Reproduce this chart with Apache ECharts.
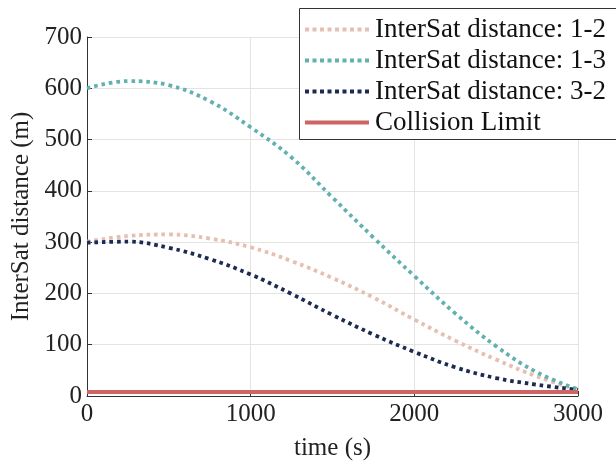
<!DOCTYPE html>
<html>
<head>
<meta charset="utf-8">
<script src="https://cdn.jsdelivr.net/npm/echarts@6/dist/echarts.min.js"></script>
<style>
  html, body { margin: 0; padding: 0; background: #fff; }
  #chart { width: 616px; height: 461px; }
</style>
</head>
<body>
<div id="chart"></div>
<script>
// time samples (s)
const timeS = [0, 250, 500, 750, 1000, 1250, 1500, 1750, 2000, 2250, 2500, 2750, 3000]
// inter-satellite distances (m)
const dist12 = [301, 312, 315, 307, 290, 263, 230, 192, 149, 108, 71, 38, 12]
const dist13 = [600, 614, 606, 575, 524, 465, 387, 309, 234, 161, 97, 46, 13]
const dist32 = [299, 301, 289, 267, 237, 199, 158, 120, 86, 56, 35, 22, 12]
const collisionLimit = 8
const yTicks = [0, 100, 200, 300, 400, 500, 600, 700]
const seriesNames = ['InterSat distance: 1-2', 'InterSat distance: 1-3', 'InterSat distance: 3-2', 'Collision Limit']

const font = 'Liberation Serif'
const pair = arr => timeS.map((t, i) => [t, arr[i]])

// legend icons: a row of square dots, and a solid bar
let dotPath = 'path://'
for (let i = 0; i < 9; i++) {
  dotPath += 'M' + (i * 7.5) + ',0h4v4h-4z'
}
const barPath = 'path://M0,0h64v4h-64z'

const chart = echarts.init(document.getElementById('chart'))

function dotted (name, color, arr) {
  return {
    name: name,
    type: 'line',
    data: pair(arr),
    smooth: 0.4,
    symbol: 'none',
    lineStyle: { color: color, width: 3.8, type: [3.6, 3.9] },
    itemStyle: { color: color }
  }
}

const option = {
  animation: false,
  grid: { left: 87, right: 38, top: 37, bottom: 65, outerBoundsMode: 'none', containLabel: false },
  // legend frame runs off the right edge, like the original figure
  graphic: [{
    type: 'rect',
    left: 299,
    top: 8,
    z: 10,
    shape: { width: 400, height: 131 },
    style: { fill: '#fff', stroke: '#333', lineWidth: 1 }
  }],
  legend: {
    orient: 'vertical',
    left: 299,
    top: 8,
    z: 20,
    padding: [8, 10, 5, 6],
    itemGap: 4,
    itemWidth: 64,
    itemHeight: 4,
    textStyle: { fontFamily: font, fontSize: 27, color: '#111', lineHeight: 26, padding: [0, 0, 0, 1] },
    data: [
      { name: seriesNames[0], icon: dotPath },
      { name: seriesNames[1], icon: dotPath },
      { name: seriesNames[2], icon: dotPath },
      { name: seriesNames[3], icon: barPath }
    ]
  },
  xAxis: {
    type: 'value',
    min: 0,
    max: 3000,
    interval: 1000,
    name: 'time (s)',
    nameLocation: 'middle',
    nameGap: 40,
    nameTextStyle: { fontFamily: font, fontSize: 25, color: '#222' },
    axisLine: { lineStyle: { color: '#333', width: 1 } },
    axisTick: { inside: true, length: 5, lineStyle: { color: '#333' } },
    axisLabel: { fontFamily: font, fontSize: 25, color: '#222', margin: 6, formatter: v => String(v) },
    splitLine: { show: true, lineStyle: { color: '#e3e3e3' } }
  },
  yAxis: {
    type: 'value',
    min: yTicks[0],
    max: yTicks[yTicks.length - 1],
    interval: 100,
    name: 'InterSat distance (m)',
    nameLocation: 'middle',
    nameGap: 40,
    nameTextStyle: { fontFamily: font, fontSize: 25, color: '#222' },
    axisLine: { show: true, lineStyle: { color: '#333', width: 1 } },
    axisTick: { show: true, inside: true, length: 5, lineStyle: { color: '#333' } },
    axisLabel: { fontFamily: font, fontSize: 25, color: '#222', margin: 5 },
    splitLine: { show: true, lineStyle: { color: '#e3e3e3' } }
  },
  series: [
    dotted(seriesNames[0], '#e6bfb0', dist12),
    dotted(seriesNames[1], '#62b1ae', dist13),
    dotted(seriesNames[2], '#1d2a52', dist32),
    {
      name: seriesNames[3],
      type: 'line',
      data: [[timeS[0], collisionLimit], [timeS[timeS.length - 1], collisionLimit]],
      symbol: 'none',
      lineStyle: { color: '#cd6564', width: 4 },
      itemStyle: { color: '#cd6564' }
    }
  ]
}

chart.setOption(option)
</script>
</body>
</html>
